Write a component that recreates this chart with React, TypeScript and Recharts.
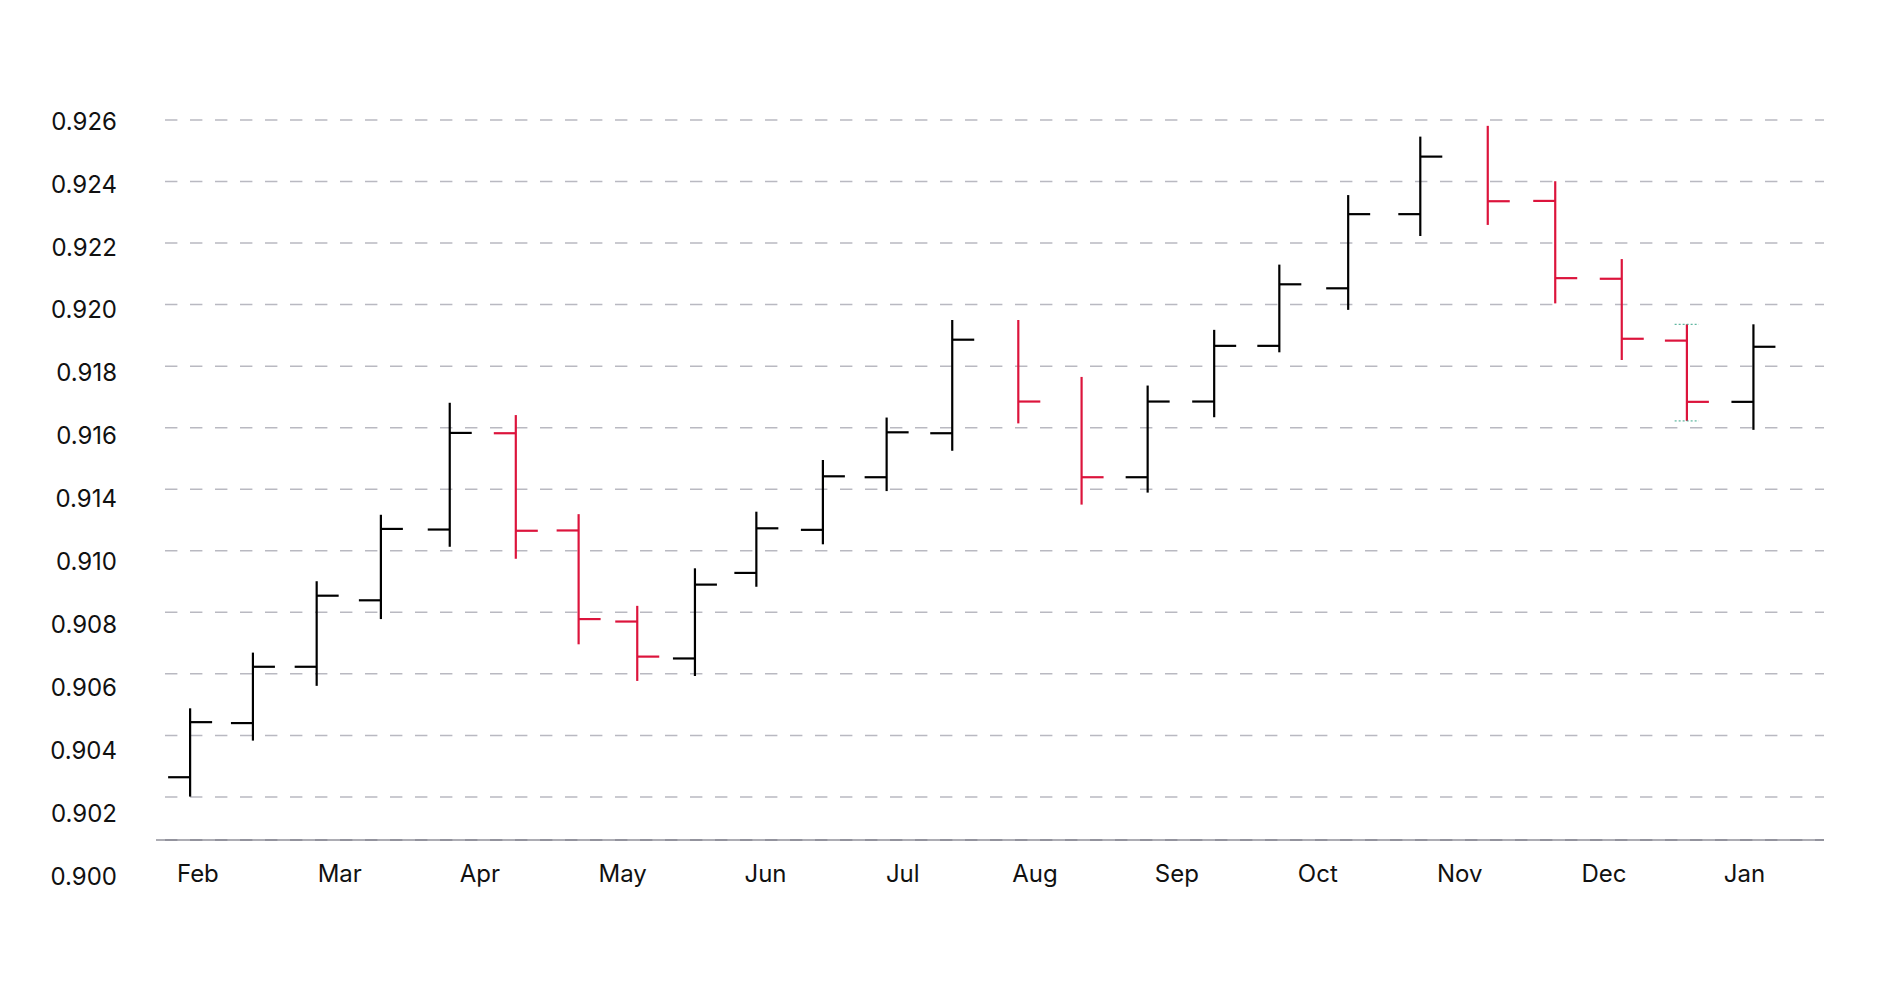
import { ComposedChart, Bar, XAxis, YAxis, CartesianGrid, ReferenceLine } from 'recharts';

document.body.style.margin = '0';

// ── Data ────────────────────────────────────────────────────────────────────
// x: days from the left edge of the time axis
const DAYS = [7.3, 20.8, 34.5, 48.3, 63.1, 77.3, 90.8, 103.4, 115.8, 129.0, 143.3, 157.0, 171.1,
    185.3, 198.9, 213.1, 227.4, 241.4, 256.2, 271.7, 286.2, 300.7, 315.0, 329.0, 343.3];

// open is missing (no left tick) on a few bars
const OPEN = [0.90464, 0.9064, 0.90823, 0.91039, 0.91269, 0.91582, 0.91266, 0.9097, 0.9085, 0.91128,
    0.91268, 0.91439, 0.91582, null, null, 0.91439, 0.91685, 0.91866, 0.92053, 0.92294,
    null, 0.92337, 0.92084, 0.91883, 0.91684];
const HIGH = [0.90688, 0.90869, 0.91101, 0.91317, 0.91681, 0.91641, 0.91319, 0.91021, 0.91143, 0.91327,
    0.91495, 0.91633, 0.9195, 0.9195, 0.91765, 0.91737, 0.91918, 0.9213, 0.92356, 0.92546,
    0.92581, 0.92401, 0.92148, 0.91936, 0.91936];
const LOW = [0.90401, 0.90583, 0.90761, 0.90978, 0.91213, 0.91174, 0.90896, 0.90777, 0.90793, 0.91083,
    0.91221, 0.91394, 0.91525, 0.91614, 0.9135, 0.91389, 0.91634, 0.91845, 0.91983, 0.92223,
    0.92259, 0.92004, 0.9182, 0.91622, 0.91593];
const CLOSE = [0.90643, 0.90823, 0.91054, 0.91271, 0.91583, 0.91265, 0.90978, 0.90856, 0.9109, 0.91273,
    0.91442, 0.91585, 0.91886, 0.91685, 0.91439, 0.91685, 0.91866, 0.92066, 0.92294, 0.92481,
    0.92336, 0.92086, 0.91889, 0.91684, 0.91863];

const HIGHLIGHT = 23; // bar with the dotted high/low markers

const MONTHS = ['Feb', 'Mar', 'Apr', 'May', 'Jun', 'Jul', 'Aug', 'Sep', 'Oct', 'Nov', 'Dec', 'Jan'];
const MONTH_TICKS = [9.0, 39.5, 69.6, 100.3, 131.0, 160.5, 188.9, 219.4, 249.7, 280.2, 311.2, 341.4];

const X_DOMAIN = [0, 358.5];
const PRICE_DOMAIN = [0.9026, 0.926];
const GRID_VALUES = [0.904, 0.906, 0.908, 0.91, 0.912, 0.914, 0.916, 0.918, 0.92, 0.922, 0.924, 0.926];

// the y labels as printed (evenly spaced, 0.912 is skipped)
const Y_LABELS = ['0.926', '0.924', '0.922', '0.920', '0.918', '0.916', '0.914',
    '0.910', '0.908', '0.906', '0.904', '0.902', '0.900'];
const LABEL_DOMAIN = [-0.0174, 11.419];

const DATA = DAYS.map((day, i) => ({
    day,
    range: [LOW[i], HIGH[i]],
    open: OPEN[i],
    high: HIGH[i],
    low: LOW[i],
    close: CLOSE[i],
    prevClose: i > 0 ? CLOSE[i - 1] : CLOSE[i],
}));

const TICK_LEN = 22;
const UP = '#000000';
const DOWN = '#dc143c';
const FONT = 'Inter, "Noto Sans", sans-serif';

// ── OHLC shape ──────────────────────────────────────────────────────────────
const OhlcBar = (props: any) => {
    const { x, y, width, height, payload } = props;
    if (x == null || y == null) return null;
    const cx = x + width / 2;
    const span = payload.high - payload.low;
    const toY = (v: number) => y + ((payload.high - v) / span) * height;
    const ref = payload.open ?? payload.prevClose;
    const color = payload.close >= ref ? UP : DOWN;
    const yc = toY(payload.close);
    return (
        <g stroke={color} strokeWidth={2.2} fill="none">
            <line x1={cx} x2={cx} y1={y} y2={y + height} />
            {payload.open != null && (
                <line x1={cx - TICK_LEN} x2={cx} y1={toY(payload.open)} y2={toY(payload.open)} />
            )}
            <line x1={cx} x2={cx + TICK_LEN} y1={yc} y2={yc} />
        </g>
    );
};

export default function App() {
    const hd = DAYS[HIGHLIGHT];
    return (
        <div style={{ width: 1880, height: 996, background: '#fff' }}>
            <ComposedChart
                width={1880}
                height={996}
                data={DATA}
                margin={{ top: 120, right: 56, bottom: 96, left: 56 }}
            >
                <CartesianGrid
                    yAxisId="price"
                    vertical={false}
                    stroke="#b9b9c1"
                    strokeWidth={1.5}
                    strokeDasharray="0 9 12.4 3.6 0 0"
                />
                <XAxis
                    dataKey="day"
                    type="number"
                    domain={X_DOMAIN}
                    allowDataOverflow
                    ticks={MONTH_TICKS}
                    interval={0}
                    tickFormatter={(_v: number, i: number) => MONTHS[i]}
                    tickLine={false}
                    tickMargin={19}
                    height={60}
                    axisLine={{ stroke: '#5c5c6a', strokeWidth: 1.2 }}
                    tick={{ fontSize: 24, fill: '#111', fontFamily: FONT }}
                />
                <YAxis
                    yAxisId="labels"
                    type="number"
                    domain={LABEL_DOMAIN}
                    allowDataOverflow
                    reversed
                    ticks={Y_LABELS.map((_, i) => i)}
                    interval={0}
                    tickFormatter={(v: number) => Y_LABELS[v]}
                    axisLine={false}
                    tickLine={false}
                    tickMargin={33}
                    width={100}
                    tick={{ fontSize: 24, fill: '#111', fontFamily: FONT }}
                />
                <YAxis
                    yAxisId="price"
                    type="number"
                    domain={PRICE_DOMAIN}
                    allowDataOverflow
                    ticks={GRID_VALUES}
                    hide
                />
                <Bar
                    yAxisId="price"
                    dataKey="range"
                    barSize={4}
                    shape={<OhlcBar />}
                    isAnimationActive={false}
                />
                <ReferenceLine
                    yAxisId="price"
                    segment={[{ x: hd - 2.6, y: HIGH[HIGHLIGHT] }, { x: hd + 2.6, y: HIGH[HIGHLIGHT] }]}
                    stroke="#3aa58a"
                    strokeWidth={1}
                    strokeDasharray="2 2"
                />
                <ReferenceLine
                    yAxisId="price"
                    segment={[{ x: hd - 2.6, y: LOW[HIGHLIGHT] }, { x: hd + 2.6, y: LOW[HIGHLIGHT] }]}
                    stroke="#3aa58a"
                    strokeWidth={1}
                    strokeDasharray="2 2"
                />
            </ComposedChart>
        </div>
    );
}
